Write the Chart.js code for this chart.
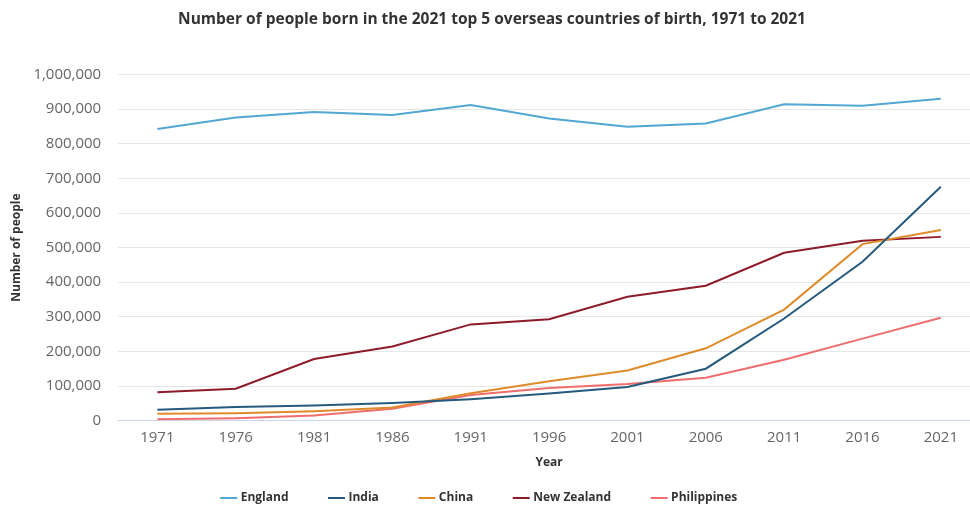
<!DOCTYPE html>
<html>
<head>
<meta charset="utf-8">
<script src="https://cdn.jsdelivr.net/npm/chart.js@4"></script>
<style>
html, body { margin: 0; padding: 0; background: #fff; overflow: hidden; width: 970px; height: 506px; }
#wrap { width: 980px; height: 506px; position: relative; }
</style>
</head>
<body>
<div id="wrap"><canvas id="c"></canvas></div>
<script>
const years = ["1971","1976","1981","1986","1991","1996","2001","2006","2011","2016","2021"];
const england     = [843000, 876000, 892000, 883000, 912000, 873000, 849000, 859000, 914000, 910000, 930000];
const india       = [31000, 39000, 44000, 51000, 62000, 78000, 97000, 150000, 295000, 459000, 676000];
const china       = [20000, 21000, 27000, 38000, 79000, 114000, 145000, 209000, 321000, 510000, 551000];
const newZealand  = [82000, 92000, 178000, 214000, 278000, 293000, 358000, 390000, 485000, 520000, 531000];
const philippines = [4000, 7000, 15000, 34000, 74000, 94000, 106000, 124000, 176000, 237000, 297000];
const yTicks = [0, 100000, 200000, 300000, 400000, 500000, 600000, 700000, 800000, 900000, 1000000];

const FONT = "'Open Sans', 'Noto Sans', sans-serif";
function ds(label, data, color) {
  return { label, data, borderColor: color, backgroundColor: color, borderWidth: 2,
           pointRadius: 0, pointHoverRadius: 0, tension: 0, fill: false };
}
const legendShift = {
  id: 'legendShift',
  afterLayout(chart) {
    if (chart.legend) { chart.legend.left -= 12; chart.legend.right -= 12; }
  }
};
new Chart(document.getElementById('c'), {
  type: 'line',
  plugins: [legendShift],
  data: {
    labels: years,
    datasets: [
      ds('England', england, '#52a7d3'),
      ds('India', india, '#255a7e'),
      ds('China', china, '#e08b2b'),
      ds('New Zealand', newZealand, '#8e1b2a'),
      ds('Philippines', philippines, '#ef6e6c')
    ]
  },
  options: {
    responsive: true,
    maintainAspectRatio: false,
    animation: false,
    devicePixelRatio: 1,
    layout: { padding: { left: 4, right: 0, top: 0, bottom: -8 } },
    plugins: {
      title: {
        display: true,
        text: 'Number of people born in the 2021 top 5 overseas countries of birth, 1971 to 2021',
        color: '#333333',
        font: { family: FONT, size: 15.5, weight: 'bold' },
        padding: { top: 10, bottom: 46 }
      },
      legend: {
        position: 'bottom',
        labels: {
          usePointStyle: true,
          pointStyle: 'line',
          boxWidth: 16,
          padding: 42,
          color: '#333333',
          font: { family: FONT, size: 12, weight: 'bold' }
        }
      },
      tooltip: { enabled: false }
    },
    scales: {
      x: {
        type: 'category',
        offset: true,
        grid: { display: false, drawTicks: false },
        border: { display: true, color: '#ccd6eb' },
        ticks: { color: '#666666', font: { family: FONT, size: 15 }, padding: 8, maxRotation: 0 },
        title: { display: true, text: 'Year', color: '#333333', font: { family: FONT, size: 12, weight: 'bold' }, padding: { top: 1, bottom: -20 } }
      },
      y: {
        min: 0,
        max: 1000000,
        afterBuildTicks: (axis) => { axis.ticks = yTicks.map(v => ({ value: v })); },
        grid: { color: (ctx) => ctx.tick && ctx.tick.value === 0 ? '#ccd6eb' : '#e6e6e6', drawTicks: false },
        border: { display: false },
        ticks: {
          color: '#666666', font: { family: FONT, size: 15 }, padding: 17,
          callback: (v) => Number(v).toLocaleString('en-US')
        },
        title: { display: true, text: 'Number of people', color: '#333333', font: { family: FONT, size: 12, weight: 'bold' }, padding: { top: 5, bottom: -7 } }
      }
    }
  }
});
</script>
</body>
</html>
